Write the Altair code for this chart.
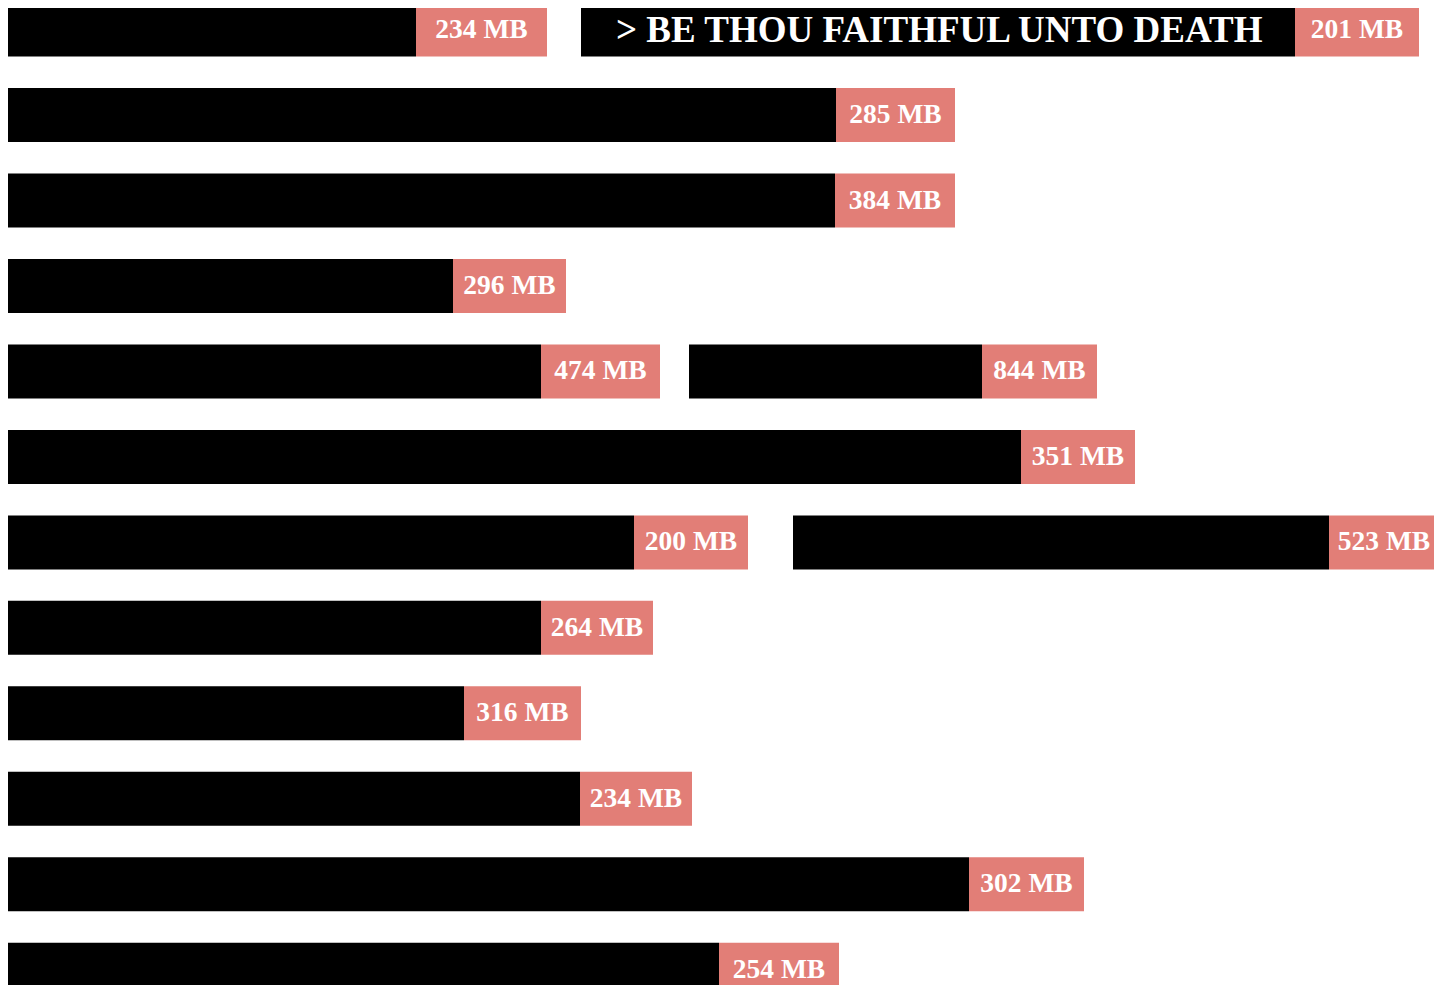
import altair as alt
import pandas as pd

# One entry per bar segment
row = [1, 1, 2, 3, 4, 5, 5, 6, 7, 7, 8, 9, 10, 11, 12]
seg_start = [6, 581, 5, 6, 5, 4, 689, 5, 5, 793, 5, 5, 6, 6, 4]
black_end = [416, 1295, 836, 835, 453, 541, 982, 1021, 634, 1329, 541, 464, 580, 969, 719]
label_end = [547, 1419, 955, 955, 566, 660, 1097, 1135, 748, 1439, 653, 581, 692, 1084, 839]
size_label = ["234 MB", "201 MB", "285 MB", "384 MB", "296 MB", "474 MB", "844 MB",
              "351 MB", "200 MB", "523 MB", "264 MB", "316 MB", "234 MB", "302 MB", "254 MB"]
title_text = ["", "> BE THOU FAITHFUL UNTO DEATH", "", "", "", "", "", "", "", "", "", "", "", "", ""]

df = pd.DataFrame({
    "row": row,
    "start": seg_start,
    "black_end": black_end,
    "label_end": label_end,
    "size": size_label,
    "title": title_text,
})

W, H = 1426, 977
SALMON = "#E27E77"
FONT = "Liberation Serif"

xs = alt.Scale(domain=[0, 1442], range=[-8, 1434], zero=False, nice=False)
ys = alt.Scale(domain=list(range(1, 13)), range=[-5.4, 988.7], paddingInner=0.368, paddingOuter=0)

base = alt.Chart(df)

black = base.mark_bar(color="black", cornerRadius=0).encode(
    x=alt.X("start:Q", scale=xs, axis=None),
    x2="black_end:Q",
    y=alt.Y("row:O", scale=ys, axis=None),
)

salmon = base.mark_bar(color=SALMON, cornerRadius=0).encode(
    x=alt.X("black_end:Q", scale=xs, axis=None),
    x2="label_end:Q",
    y=alt.Y("row:O", scale=ys, axis=None),
)

labels = base.transform_calculate(
    mid="(datum.black_end + datum.label_end) / 2"
).mark_text(
    color="white", font=FONT, fontSize=27.5, fontWeight="bold",
    align="center", baseline="middle"
).encode(
    x=alt.X("mid:Q", scale=xs, axis=None),
    y=alt.Y("row:O", scale=ys, axis=None),
    text="size:N",
)

titles = base.transform_filter("datum.title != ''").mark_text(
    color="white", font=FONT, fontSize=37, fontWeight="bold",
    align="left", baseline="middle", dx=35, dy=1
).encode(
    x=alt.X("start:Q", scale=xs, axis=None),
    y=alt.Y("row:O", scale=ys, axis=None),
    text="title:N",
)

chart = alt.layer(black, salmon, labels, titles).properties(
    width=W, height=H,
    autosize=alt.AutoSizeParams(type="none"),
    padding=0,
    background="white",
).configure_view(stroke=None)

chart.save("out.html", embed_options={"renderer": "svg", "actions": False})
